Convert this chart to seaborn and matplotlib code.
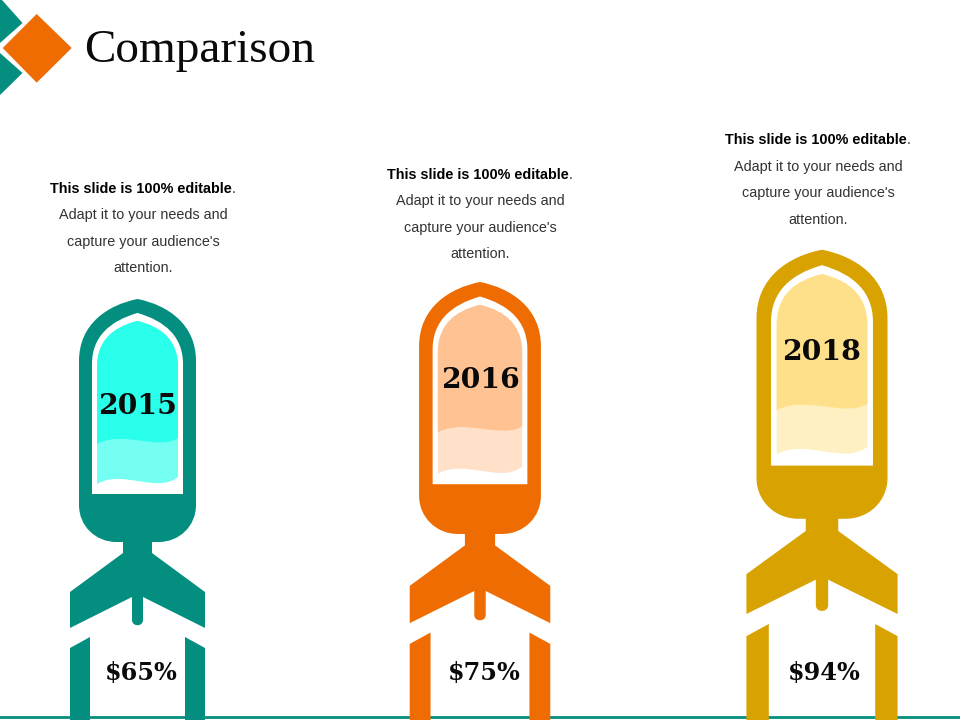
# Comparison slide: three rockets, their size follows the percent value

import matplotlib
matplotlib.use("Agg")
import matplotlib.pyplot as plt
import seaborn as sns
from matplotlib.patches import PathPatch, Polygon
from matplotlib.path import Path

# Data
years = ["2015", "2016", "2018"]
values = [65, 75, 94]
value_labels = ["$65%", "$75%", "$94%"]
headline = "This slide is 100% editable"
body_lines = ["Adapt it to your needs and", "capture your audience's", "attention."]

# Layout (pixels)
centers = [137.5, 480, 822]
text_centers = [143, 480, 818]
text_tops = [189, 175, 140]
year_y = [406, 380, 352]
year_x = [138, 480, 822]
label_x = [141, 484, 824]
label_y = 673

main_colors = sns.color_palette(["#048E7F", "#EE6C02", "#D8A200"])
fill_colors = ["#29FFEA", "#FFC393", "#FFE08A"]
wave_colors = ["#75FFF2", "#FFE1CA", "#FFF0C4"]

M, L, C = Path.MOVETO, Path.LINETO, Path.CURVE4

# outlines relative to rocket tip, for the 2015 size
body = [(M, 0, 0), (C, -30, 6), (C, -58.5, 25), (C, -58.5, 62),
        (L, -58.5, 206), (C, -58.5, 227), (C, -42, 243), (C, -21, 243),
        (L, 21, 243), (C, 42, 243), (C, 58.5, 227), (C, 58.5, 206),
        (L, 58.5, 62), (C, 58.5, 25), (C, 30, 6), (C, 0, 0)]
window = [(M, 0, 14), (C, -28, 22), (C, -45.5, 38), (C, -45.5, 65),
          (L, -45.5, 195), (L, 45.5, 195), (L, 45.5, 65),
          (C, 45.5, 38), (C, 28, 22), (C, 0, 14)]
top_arch = [(M, 0, 22), (C, -25, 28), (C, -40.5, 42), (C, -40.5, 68)]
top_arch_back = [(L, 40.5, 68), (C, 40.5, 42), (C, 25, 28), (C, 0, 22)]
fill_dark = top_arch + [(L, -40.5, 145), (C, -15, 131), (C, 22, 152), (C, 40.5, 139)] + top_arch_back
fill_light = top_arch + [(L, -40.5, 185), (C, -15, 170), (C, 20, 195), (C, 40.5, 178)] + top_arch_back
wings = [(M, -14.5, 240), (L, -14.5, 254), (L, -67.5, 293), (L, -67.5, 329),
         (L, -5.5, 298), (L, -5.5, 321), (C, -5.5, 328), (C, 5.5, 328), (C, 5.5, 321),
         (L, 5.5, 298), (L, 67.5, 329), (L, 67.5, 293), (L, 14.5, 254), (L, 14.5, 240)]
leg_left = [(M, -67.5, 349), (L, -47.5, 338), (L, -47.5, 460), (L, -67.5, 460)]
leg_right = [(M, 67.5, 349), (L, 47.5, 338), (L, 47.5, 460), (L, 67.5, 460)]

sns.set_theme(style="white")
plt.rcParams["font.family"] = ["Liberation Sans", "DejaVu Sans"]

fig, ax = plt.subplots(figsize=(9.6, 7.2), dpi=100)
fig.subplots_adjust(0, 0, 1, 1)
ax.set_xlim(0, 960)
ax.set_ylim(720, 0)
ax.axis("off")


def draw(outline, cx, tip, sx, sy, color):
    codes = [o[0] for o in outline]
    verts = [(cx + o[1] * sx, tip + o[2] * sy) for o in outline]
    ax.add_patch(PathPatch(Path(verts, codes), facecolor=color, edgecolor="none", zorder=3))


# bottom rule and logo
sns.lineplot(x=[0, 960], y=[717, 717], color=main_colors[0], linewidth=2, ax=ax, zorder=1)
ax.add_patch(Polygon([(0, 0), (2, 0), (22.5, 23), (0, 43)], color=main_colors[0], lw=0))
ax.add_patch(Polygon([(0, 53), (22.5, 73), (0, 95)], color=main_colors[0], lw=0))
ax.add_patch(Polygon([(2.7, 48), (36.7, 14), (71.7, 48), (36.7, 82.7)], color=main_colors[1], lw=0))
ax.text(84, 50.5, "Comparison", family="Liberation Serif", fontsize=34, color="#0a0a0a",
        ha="left", va="center")

renderer = fig.canvas.get_renderer()
for i, v in enumerate(values):
    # rocket grows with the value
    sx = 1 + (v - 65) * 0.00413
    sy = 1 + (v - 65) * 0.0037
    tip = 299 - (v - 65) * 1.7
    cx = centers[i]
    draw(body, cx, tip, sx, sy, main_colors[i])
    draw(wings, cx, tip, sx, sy, main_colors[i])
    draw(leg_left, cx, tip, sx, sy, main_colors[i])
    draw(leg_right, cx, tip, sx, sy, main_colors[i])
    draw(window, cx, tip, sx, sy, "white")
    draw(fill_light, cx, tip, sx, sy, wave_colors[i])
    draw(fill_dark, cx, tip, sx, sy, fill_colors[i])

    ax.text(year_x[i], year_y[i], years[i], family="DejaVu Serif", weight="bold", fontsize=20.3,
            color="#0a0a0a", ha="center", va="center", zorder=5)
    ax.text(label_x[i], label_y, value_labels[i].replace("$", r"\$"), family="DejaVu Serif", weight="bold",
            fontsize=17.3, color="#0a0a0a", ha="center", va="center", zorder=5)

    # bold first line with a plain full stop after it
    t = ax.text(text_centers[i] - 2, text_tops[i], headline, weight="bold", fontsize=10.4,
                color="black", ha="center", va="center")
    right = t.get_window_extent(renderer).x1
    ax.text(right, text_tops[i], ".", fontsize=10.4, color="#333333", ha="left", va="center")
    for j, line in enumerate(body_lines):
        ax.text(text_centers[i], text_tops[i] + 26.5 * (j + 1), line, fontsize=10.4,
                color="#333333", ha="center", va="center")

fig.savefig("out.png", dpi=100)
